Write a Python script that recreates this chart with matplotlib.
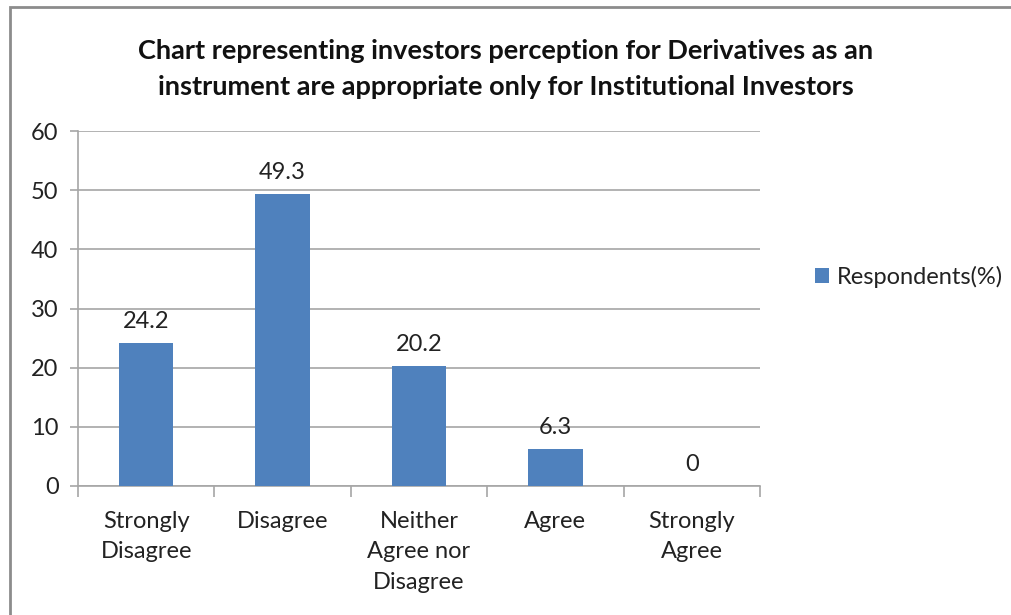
import matplotlib.pyplot as plt
from matplotlib.patches import Rectangle

# Survey responses
categories = ['Strongly\nDisagree', 'Disagree', 'Neither\nAgree nor\nDisagree', 'Agree', 'Strongly\nAgree']
respondents = [24.2, 49.3, 20.2, 6.3, 0]
yticks = [0, 10, 20, 30, 40, 50, 60]

plt.rcParams['font.family'] = ['Lato', 'DejaVu Sans']

fig = plt.figure(figsize=(10.12, 6.15), dpi=100)
ax = fig.add_axes([78 / 1012, 1 - 486 / 615, 682 / 1012, 355 / 615])

grid_color = '#a6a6a6'
bar_color = '#4f81bd'
text_color = '#222222'
fs = 17

x = range(len(categories))
bars = ax.bar(x, respondents, width=0.4, color=bar_color, label='Respondents(%)', zorder=3)

# value labels above each bar
for xi, v in zip(x, respondents):
    ax.annotate(f'{v:g}', (xi, v), xytext=(0, 8), textcoords='offset points',
                ha='center', va='bottom', fontsize=fs, color=text_color)

ax.set_xlim(-0.5, len(categories) - 0.5)
ax.set_ylim(0, 60)
ax.set_yticks(yticks)
ax.set_yticklabels([str(t) for t in yticks], fontsize=fs, color=text_color)

# category labels between boundary ticks
ax.set_xticks([i - 0.5 for i in range(len(categories) + 1)])
ax.set_xticklabels([])
ax.set_xticks(list(x), minor=True)
ax.set_xticklabels(categories, minor=True, fontsize=fs, color=text_color, linespacing=1.55, va='top')
ax.tick_params(axis='x', which='major', length=8, color=grid_color, width=1.2)
ax.tick_params(axis='x', which='minor', length=0, pad=18)
ax.tick_params(axis='y', length=6, color=grid_color, width=1.2, pad=8)

ax.yaxis.grid(True, color=grid_color, linewidth=1.2, zorder=0)
ax.set_axisbelow(True)
for side in ['top', 'right']:
    ax.spines[side].set_visible(False)
for side in ['left', 'bottom']:
    ax.spines[side].set_color(grid_color)
    ax.spines[side].set_linewidth(1.2)

fig.text(0.5, 1 - 69 / 615, 'Chart representing investors perception for Derivatives as an\n'
         'instrument are appropriate only for Institutional Investors',
         ha='center', va='center', fontsize=19.5, fontweight='bold', linespacing=1.62, color='#111111')

fig.legend(handles=[bars], labels=['Respondents(%)'], loc='center left',
           bbox_to_anchor=(794 / 1012, 1 - 277 / 615), frameon=False, fontsize=fs,
           handlelength=0.6, handleheight=0.6, handletextpad=0.3, labelcolor=text_color)

# outer chart border
fig.patches.append(Rectangle((10 / 1012, -0.1), 1.1, (1 - 7 / 615) + 0.1, transform=fig.transFigure,
                             fill=False, edgecolor='#8c8c8c', linewidth=2))

fig.savefig('out.png', dpi=100)
